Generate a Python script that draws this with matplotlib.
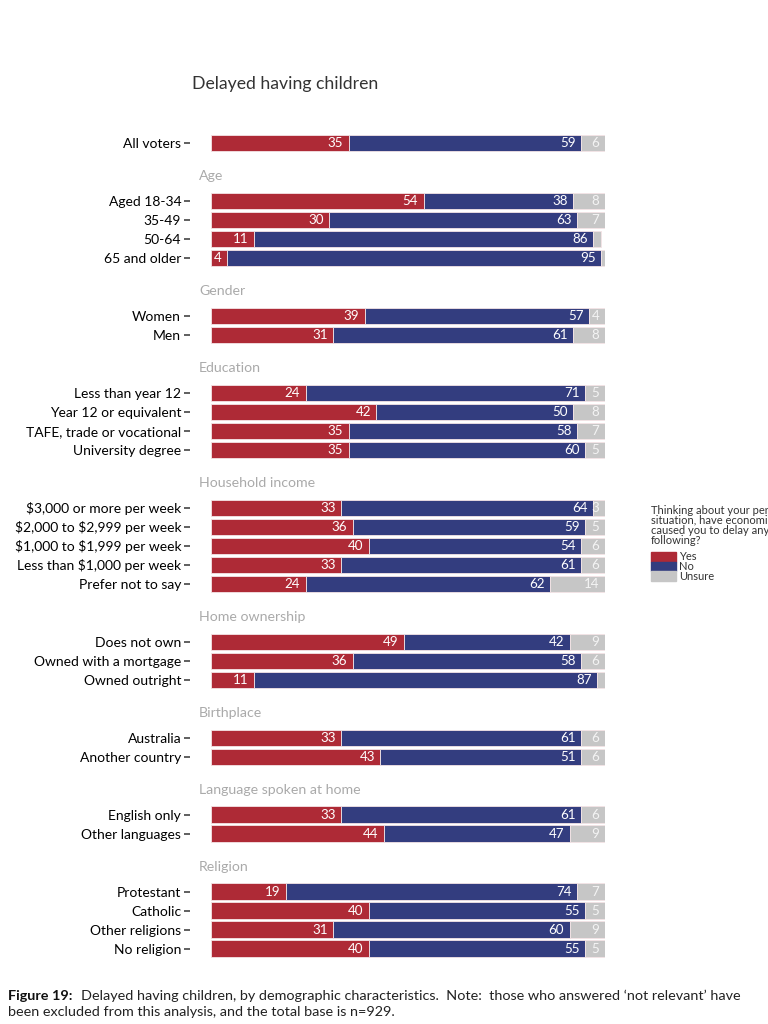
#import packages
import matplotlib.pyplot as plt
import numpy as np

plt.rcParams['font.family'] = ['Lato', 'DejaVu Sans']

#data
groups = ["", "Age", "Gender", "Education", "Household income", "Home ownership",
          "Birthplace", "Language spoken at home", "Religion"]
group_rows = [
    ["All voters"],
    ["Aged 18-34", "35-49", "50-64", "65 and older"],
    ["Women", "Men"],
    ["Less than year 12", "Year 12 or equivalent", "TAFE, trade or vocational", "University degree"],
    ["\\$3,000 or more per week", "\\$2,000 to \\$2,999 per week", "\\$1,000 to \\$1,999 per week",
     "Less than \\$1,000 per week", "Prefer not to say"],
    ["Does not own", "Owned with a mortgage", "Owned outright"],
    ["Australia", "Another country"],
    ["English only", "Other languages"],
    ["Protestant", "Catholic", "Other religions", "No religion"],
]
yes = [35, 54, 30, 11, 4, 39, 31, 24, 42, 35, 35, 33, 36, 40, 33, 24, 49, 36, 11, 33, 43, 33, 44, 19, 40, 31, 40]
no = [59, 38, 63, 86, 95, 57, 61, 71, 50, 58, 60, 64, 59, 54, 61, 62, 42, 58, 87, 61, 51, 61, 47, 74, 55, 60, 55]
unsure = [6, 8, 7, 2, 1, 4, 8, 5, 8, 7, 5, 3, 5, 6, 6, 14, 9, 6, 2, 6, 6, 6, 9, 7, 5, 9, 5]

colors = ["#AE2A36", "#333D7F", "#C6C6C6"]
series_names = ["Yes", "No", "Unsure"]

#work out row positions, leaving room for each group heading
group_gap = 3.05
y_pos = []
labels = []
headers = []
y = 0.0
for g, rows in enumerate(group_rows):
    if g > 0:
        y += group_gap
        headers.append((groups[g], y - 1.3))
    for i, r in enumerate(rows):
        if i > 0:
            y += 1
        y_pos.append(y)
        labels.append(r)
y_pos = np.array(y_pos)

#create figure
fig = plt.figure(figsize=(7.68, 10.24), dpi=100)
top_px = 133.5
bottom_px = top_px + (y_pos[-1] + 1) * 19
ax = fig.add_axes([211 / 768, 1 - bottom_px / 1024, 394 / 768, (bottom_px - top_px) / 1024])

#stacked bars
left = np.zeros(len(yes))
for vals, col, name in zip([yes, no, unsure], colors, series_names):
    vals = np.array(vals)
    ax.barh(y_pos, vals, left=left, height=0.86, color=col, edgecolor="#F4E4E6",
            linewidth=0.6, label=name)
    for yy, l, v in zip(y_pos, left, vals):
        if v >= 3:
            ax.text(l + v - 1.4, yy, str(v), ha="right", va="center", color="white",
                    fontsize=9.6, alpha=0.8 if name == "Unsure" else 1)
    left = left + vals

ax.set_xlim(0, 100)
ax.set_ylim(y_pos[-1] + 0.5, -0.5)
ax.set_yticks(y_pos)
ax.set_yticklabels(labels, fontsize=10.4, color="#333333")
ax.tick_params(axis="y", length=4, width=1.2, color="#444444", pad=2.5)
ax.spines["left"].set_position(("outward", 15))
ax.set_xticks([])
for s in ax.spines.values():
    s.set_visible(False)

#group headings
for name, hy in headers:
    ax.text(-3, hy, name, ha="left", va="center", color="#AAAAAA", fontsize=10.2, clip_on=False)

#title
fig.text(192 / 768, 1 - 84 / 1024, "Delayed having children", fontsize=12.7, color="#333333",
         va="center", ha="left")

#legend drawn by hand on the right edge (cut off at the edge as in the source)
leg_lines = ["Thinking about your personal", "situation, have economic pressures",
             "caused you to delay any of the", "following?"]
for i, t in enumerate(leg_lines):
    fig.text(651 / 768, 1 - (510 + 10.2 * i) / 1024, t, fontsize=8, color="#333333", va="center")
for i, (name, col) in enumerate(zip(series_names, colors)):
    yc = 557 + 9.5 * i
    fig.patches.append(plt.Rectangle((651 / 768, 1 - (yc + 4.75) / 1024), 25 / 768, 9.5 / 1024,
                                     color=col, transform=fig.transFigure))
    fig.text(679 / 768, 1 - yc / 1024, name, fontsize=8, color="#333333", va="center")

#caption
fig.text(8 / 768, 1 - 996 / 1024, "Figure 19:", fontsize=10.4, fontweight="bold", color="#111111", va="center")
fig.text(81 / 768, 1 - 996 / 1024,
         "Delayed having children, by demographic characteristics.  Note:  those who answered \u2018not relevant\u2019 have",
         fontsize=10.4, color="#222222", va="center")
fig.text(8 / 768, 1 - 1012 / 1024, "been excluded from this analysis, and the total base is n=929.",
         fontsize=10.4, color="#222222", va="center")

fig.savefig("out.png", dpi=100)
